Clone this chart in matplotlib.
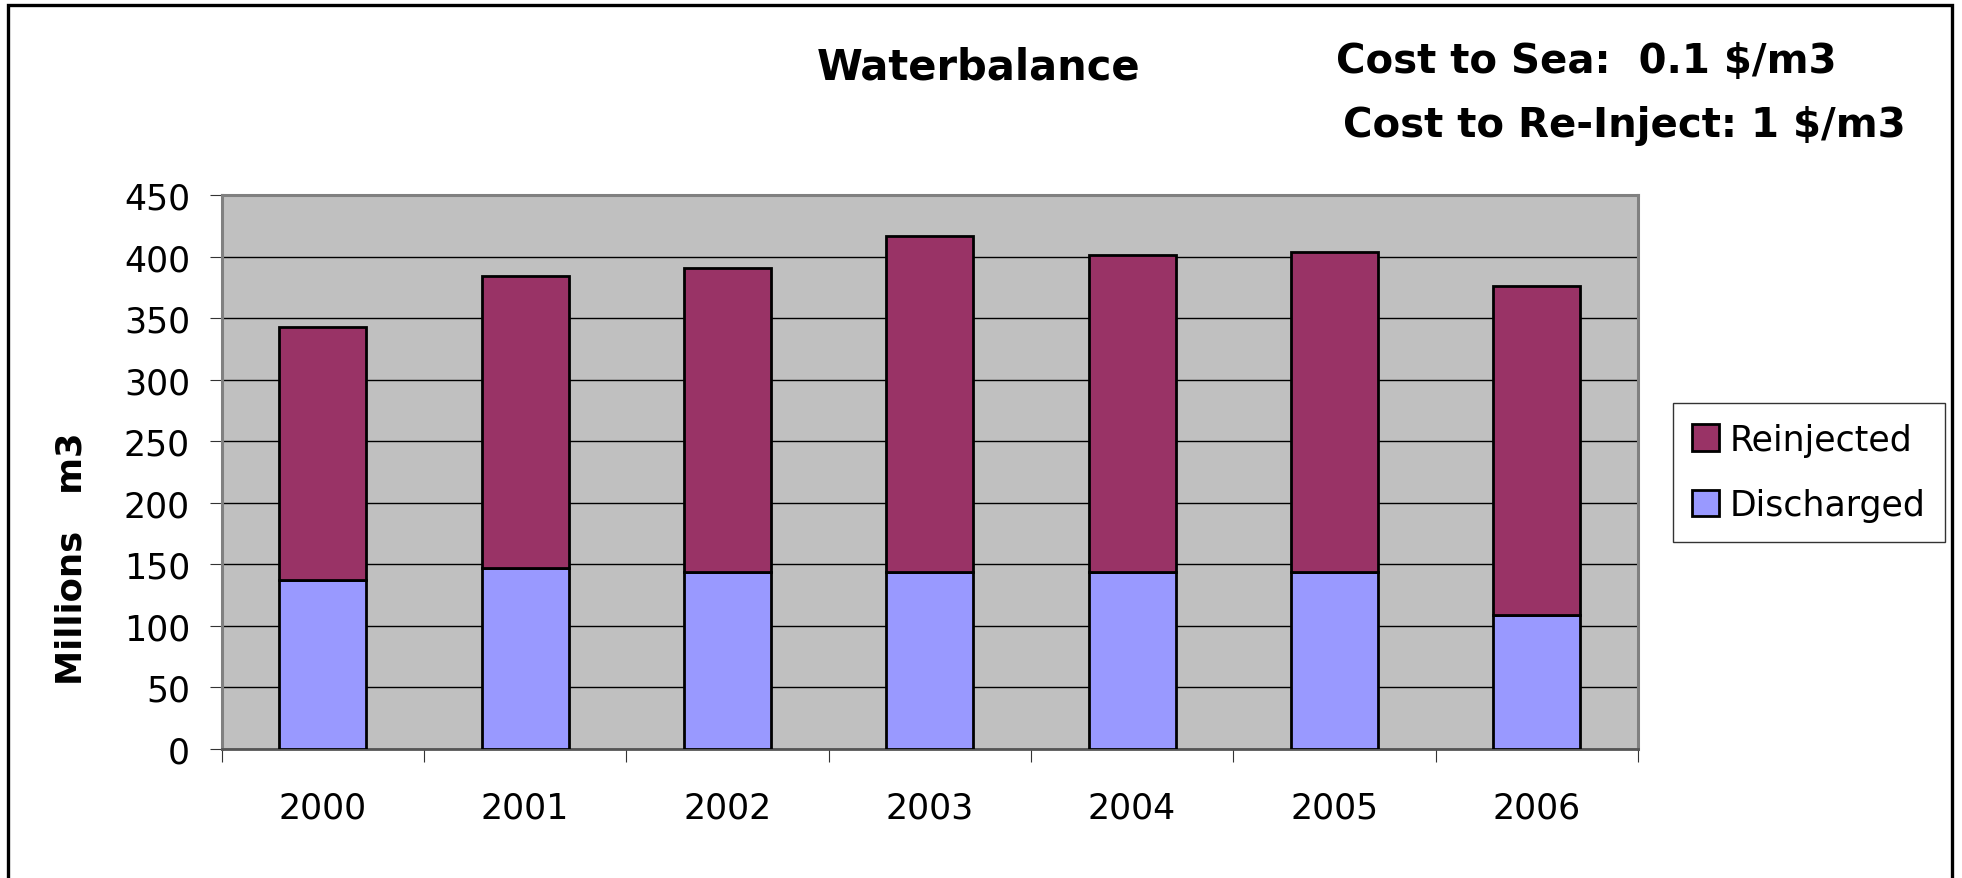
import numpy as np
from matplotlib import pyplot as plt
from matplotlib.patches import Rectangle

years = ['2000', '2001', '2002', '2003', '2004', '2005', '2006']
discharged = [137, 147, 144, 144, 144, 144, 109]
reinjected = [206, 237, 247, 273, 257, 260, 267]

W, H = 1962, 879
fig = plt.figure(figsize=(W / 100, H / 100), dpi=100)
fig.patch.set_facecolor('white')

# plot area in pixel terms from the reference
ax = fig.add_axes([221.5 / W, 129 / H, (1638 - 221.5) / W, 554 / H])
ax.set_facecolor('#C0C0C0')

x = np.arange(len(years))
ax.bar(x, discharged, width=0.43, color='#9999FF', edgecolor='black', linewidth=2.0,
       label='Discharged', zorder=3)
ax.bar(x, reinjected, width=0.43, bottom=discharged, color='#993366', edgecolor='black',
       linewidth=2.0, label='Reinjected', zorder=3)

ax.set_xlim(-0.5, len(years) - 0.5)
ax.set_ylim(0, 450)
ax.set_yticks(np.arange(0, 451, 50))
ax.yaxis.grid(True, color='black', linewidth=1.0, zorder=1)
ax.set_axisbelow(True)

# category boundaries get the tick marks, labels sit in the middle
ax.set_xticks(np.arange(-0.5, len(years), 1.0))
ax.set_xticklabels([])
ax.set_xticks(x, minor=True)
ax.set_xticklabels(years, minor=True)
ax.tick_params(axis='x', which='major', length=9, width=0.8, color='#333333', direction='out')
ax.tick_params(axis='x', which='minor', length=0, pad=30, labelsize=25)
ax.tick_params(axis='y', length=8.6, width=0.8, color='#333333', pad=14, labelsize=25)

for s in ['top', 'right', 'left']:
    ax.spines[s].set_color('#808080')
    ax.spines[s].set_linewidth(2.2)
ax.spines['bottom'].set_color('#555555')
ax.spines['bottom'].set_linewidth(2.0)

fig.text(72 / W, 1 - 559 / H, 'Millions   m3', rotation=90, ha='center', va='center',
         fontsize=25.5, fontweight='bold')

fig.text(978.6 / W, 1 - 68 / H, 'Waterbalance', ha='center', va='center',
         fontsize=30, fontweight='bold')
fig.text(1336 / W, 1 - 62 / H, 'Cost to Sea:  0.1 $/m3', ha='left', va='center',
         fontsize=29, fontweight='bold')
fig.text(1343 / W, 1 - 126 / H, 'Cost to Re-Inject: 1 $/m3', ha='left', va='center',
         fontsize=29, fontweight='bold')

h, l = ax.get_legend_handles_labels()
leg = fig.legend(h[::-1], l[::-1], loc='center left', bbox_to_anchor=(1673 / W, 1 - 473.5 / H),
                 fontsize=25, frameon=True, fancybox=False, shadow=False,
                 handlelength=0.78, handleheight=0.78, handletextpad=0.3,
                 labelspacing=0.92, borderpad=0.55, borderaxespad=0)
leg.get_frame().set_edgecolor('black')
leg.get_frame().set_linewidth(1.0)

# outer chart frame
fig.patches.append(Rectangle((8.3 / W, -0.05), (1952.3 - 8.3) / W, 1.05 - 5.7 / H,
                             transform=fig.transFigure, fill=False, edgecolor='black',
                             linewidth=2.4))

fig.savefig('out.png', dpi=100)
